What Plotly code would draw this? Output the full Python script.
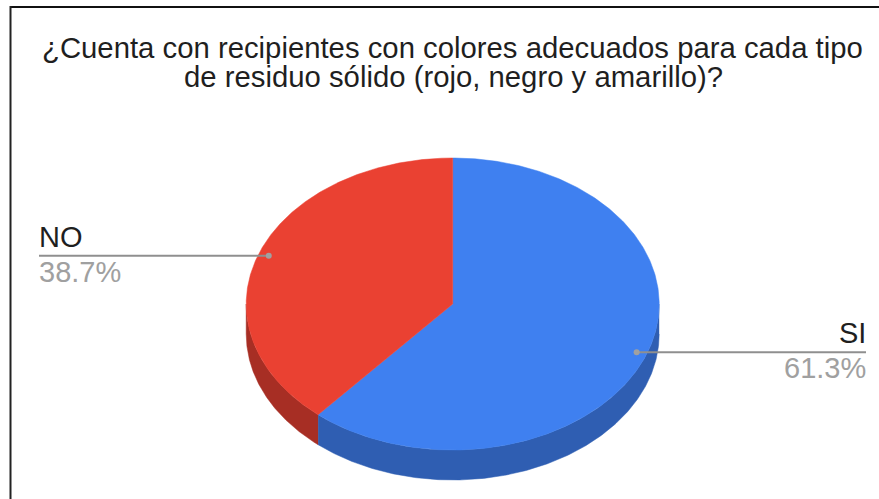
import numpy as np
import plotly.graph_objects as go

# Survey answers
labels = ["SI", "NO"]
values = [61.3, 38.7]
face_colors = ["#3F80F0", "#EA4132"]
wall_colors = ["#2F5EB2", "#A72E24"]
title_lines = [
    "¿Cuenta con recipientes con colores adecuados para cada tipo",
    "de residuo sólido (rojo, negro y amarillo)?",
]

W, H = 879, 499
CX, CY, RX, RY, DEPTH = 452.7, 304.0, 206.5, 146.0, 30.0
DOT_RADIUS = 0.95
FONT = "Liberation Sans, Arial, sans-serif"
FONT_SIZE = 29
TITLE_SIZE = 29.3


def rim(theta, drop=0.0, scale=1.0):
    """Ellipse points for clockwise angles measured from twelve o'clock."""
    return CX + scale * RX * np.sin(theta), CY - scale * RY * np.cos(theta) + drop


fractions = np.array(values) / sum(values)
edges = np.concatenate([[0.0], np.cumsum(fractions)]) * 2 * np.pi

fig = go.Figure()

# Visible wall of the disc: only the part of the rim facing the viewer
for i, label in enumerate(labels):
    lo, hi = max(edges[i], np.pi / 2), min(edges[i + 1], 3 * np.pi / 2)
    if hi <= lo:
        continue
    t = np.linspace(lo, hi, 240)
    xa, ya = rim(t)
    xb, yb = rim(t[::-1], drop=DEPTH)
    fig.add_trace(go.Scatter(
        x=np.concatenate([xa, xb]), y=np.concatenate([ya, yb]),
        mode="lines", fill="toself", fillcolor=wall_colors[i],
        line=dict(color=wall_colors[i], width=0.5), hoverinfo="skip", showlegend=False,
    ))

# Top face slices
for i, label in enumerate(labels):
    t = np.linspace(edges[i], edges[i + 1], 360)
    xa, ya = rim(t)
    fig.add_trace(go.Scatter(
        x=np.concatenate([[CX], xa, [CX]]), y=np.concatenate([[CY], ya, [CY]]),
        mode="lines", fill="toself", fillcolor=face_colors[i],
        line=dict(color=face_colors[i], width=0.5), name=label, showlegend=False,
    ))

# Leader lines start at the middle of each slice and run to the label edge
line_ends = {"SI": 866.0, "NO": 39.0}
text_edges = {"SI": 867.0, "NO": 38.0}
for i, label in enumerate(labels):
    mid = (edges[i] + edges[i + 1]) / 2
    dx, dy = rim(mid, scale=DOT_RADIUS)
    fig.add_trace(go.Scatter(
        x=[dx, line_ends[label]], y=[dy, dy], mode="lines",
        line=dict(color="#8f8f8f", width=2), hoverinfo="skip", showlegend=False,
    ))
    fig.add_trace(go.Scatter(
        x=[dx], y=[dy], mode="markers",
        marker=dict(color="#a0a0a0", size=6), hoverinfo="skip", showlegend=False,
    ))
    anchor = "right" if label == "SI" else "left"
    fig.add_annotation(
        x=text_edges[label], y=dy - 2, text=label, showarrow=False,
        xanchor=anchor, yanchor="bottom", borderpad=0,
        font=dict(family=FONT, size=FONT_SIZE, color="#1f1f1f"),
    )
    fig.add_annotation(
        x=text_edges[label], y=dy - 1, text=f"{values[i]}%", showarrow=False,
        xanchor=anchor, yanchor="top", borderpad=0,
        font=dict(family=FONT, size=FONT_SIZE, color="#a0a0a0"),
    )

# Title, one annotation per line to keep the leading tight
for line, centre, top in zip(title_lines, [452.3, 453.5], [30, 59]):
    fig.add_annotation(
        x=centre, y=top, text=line, showarrow=False,
        xanchor="center", yanchor="top", borderpad=0,
        font=dict(family=FONT, size=TITLE_SIZE, color="#1f1f1f"),
    )

# Frame along the top and left edges
fig.add_shape(type="line", x0=10, x1=W, y0=7, y1=7, line=dict(color="#111111", width=2))
fig.add_shape(type="line", x0=10.5, x1=10.5, y0=6, y1=H, line=dict(color="#222222", width=2))

fig.update_layout(
    width=W, height=H,
    margin=dict(l=0, r=0, t=0, b=0),
    paper_bgcolor="white", plot_bgcolor="white",
    xaxis=dict(range=[0, W], visible=False, fixedrange=True),
    yaxis=dict(range=[H, 0], visible=False, fixedrange=True),
)

fig.write_html("out.html", config={"displayModeBar": False})
